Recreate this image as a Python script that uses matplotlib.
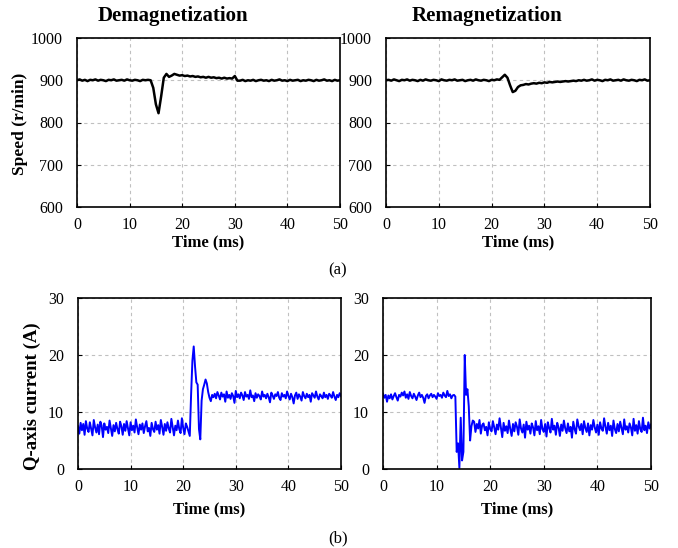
import numpy as np
import matplotlib
matplotlib.use("Agg")
import matplotlib.pyplot as plt

plt.rcParams['font.family'] = ['Liberation Serif', 'DejaVu Serif']
plt.rcParams['font.size'] = 11

# Speed (r/min), sampled every 0.5 ms from 0 to 50 ms
speed_demag = (
    [900, 902, 899, 901, 898, 901, 900, 902, 899, 901, 900, 898, 901, 900,
     902, 899, 900, 901, 899, 902, 900, 899, 901, 900, 898, 901, 900, 901]
    + [900, 882, 843, 822, 862, 906, 915, 908, 911, 915,
       913, 911, 912, 910, 911, 909, 910, 908, 909, 907, 908, 906,
       908, 906, 907, 905, 906, 904, 906, 904, 905, 904, 910, 899]
    + [899, 901, 898, 900, 899, 901, 898, 900, 901, 899,
       900, 898, 901, 899, 900, 902, 899, 900, 898, 901,
       899, 900, 901, 898, 900, 899, 901, 900, 898, 901,
       899, 900, 902, 899, 900, 898, 901, 899, 900]
)
speed_remag = (
    [900, 901, 899, 902, 900, 898, 901, 900, 902, 899,
     901, 900, 898, 901, 899, 902, 900, 899, 901, 900,
     898, 902, 900, 899, 901, 900, 902, 899, 900, 901,
     898, 900, 901, 899, 902, 900, 899, 901, 900, 898,
     901, 900, 902, 901]
    + [907, 913, 906, 888, 872, 875, 884, 888, 889, 891,
       890, 892, 893, 892, 894, 893, 895, 894, 896, 895,
       896, 897, 896, 897, 898, 897, 898]
    + [899, 898, 900, 899, 901, 899, 900, 902, 899, 901,
       900, 898, 901, 900, 902, 899, 900, 901, 899, 902,
       900, 899, 901, 900, 898, 901, 900, 902, 899, 900]
)

# Q-axis current (A), sampled every 0.25 ms from 0 to 50 ms
iq_demag = (
    [7.5, 6.2, 8.1, 6.8, 7.9, 6.0, 8.4, 7.1, 6.5, 8.2, 7.0, 5.9, 8.6, 7.3, 6.4, 7.8, 6.1, 8.3, 7.6, 5.6,
     8.0, 6.9, 7.4, 6.3, 8.5, 7.2, 5.8, 7.7, 6.6, 8.1, 7.0, 6.2, 8.3, 7.5, 6.0, 7.9, 6.7, 8.4, 7.1, 5.9,
     8.2, 6.8, 7.6, 6.4, 8.7, 7.3, 6.1, 7.8, 6.9, 8.0, 6.3, 7.5, 8.4, 6.6, 7.2, 5.8, 8.1, 7.0, 6.5, 8.3,
     6.9, 7.7, 6.2, 8.6, 7.4, 6.0, 7.9, 6.7, 8.2, 7.1, 6.4, 8.8, 7.3, 5.9, 7.6, 6.8, 8.5, 7.0, 6.3, 8.9,
     7.2, 6.1, 8.0, 7.4, 6.6]
    + [5.8, 13.0, 19.0, 21.5, 18.0, 15.2, 14.8, 7.0, 5.2, 12.0,
       14.0, 14.8, 15.7, 15.0, 13.5, 12.5, 11.9, 13.0]
    + [12.6, 13.2, 12.4, 13.5, 12.9, 12.2, 13.4, 12.7, 13.1, 11.8, 13.6, 12.5, 13.0, 12.3, 13.3, 12.8, 11.6, 13.7, 12.6, 13.1,
       12.4, 13.4, 12.9, 12.1, 13.5, 12.7, 13.0, 12.3, 13.8, 12.6, 12.9, 11.9, 13.3, 12.5, 13.1, 12.8, 12.2, 13.6, 12.7, 13.0,
       12.4, 13.2, 12.6, 11.7, 13.4, 12.9, 12.3, 13.1, 12.8, 13.5, 12.5, 12.1, 13.3, 12.7, 13.0, 12.4, 13.6, 12.8, 12.2, 13.2,
       12.6, 11.5, 12.9, 13.4, 12.3, 13.1, 12.7, 12.0, 13.5, 12.8, 12.4, 13.2, 12.6, 13.0, 11.8, 13.3, 12.9, 12.5, 13.6, 12.7,
       12.2, 13.1, 12.8, 12.4, 13.4, 12.6, 13.0, 12.3, 13.2, 12.9, 12.5, 13.5, 12.7, 12.1, 13.0, 12.6, 13.3, 12.8]
)
iq_remag = (
    [13.2, 12.5, 13.0, 11.8, 12.9, 12.4, 13.1, 12.2, 12.8, 13.3, 12.6, 12.0, 13.0, 12.7, 13.4, 12.9, 13.6, 12.5, 13.1, 12.3,
     13.5, 12.8, 12.4, 13.2, 12.7, 12.1, 12.9, 13.4, 12.6, 13.0, 12.5, 11.6, 12.8, 13.1, 12.4, 12.9, 13.2, 12.6, 13.0, 12.7,
     12.3, 13.3, 12.8, 13.0, 12.5, 13.4, 12.9, 12.6, 13.7, 12.8, 13.1, 12.4, 12.9, 13.0, 12.7]
    + [3.0, 4.5, 0.2, 9.0, 1.5, 3.0, 20.0, 13.0, 14.0, 11.0, 5.0, 7.5, 8.5]
    + [8.3, 6.5, 7.9, 7.1, 8.6, 6.2, 7.7, 8.0, 6.8, 7.4, 5.9, 8.2, 7.0, 6.6, 8.4, 7.3, 6.1, 7.8, 6.9, 8.9,
       7.2, 5.6, 8.1, 6.7, 7.5, 6.3, 8.5, 7.0, 5.8, 7.9, 6.6, 8.2, 7.4, 6.0, 8.7, 7.1, 6.4, 7.8, 5.5, 8.3,
       6.9, 7.6, 6.2, 8.0, 7.3, 5.9, 8.4, 6.8, 7.5, 6.1, 8.6, 7.0, 6.5, 7.9, 5.7, 8.2, 7.2, 6.4, 8.8, 6.9,
       7.6, 6.0, 8.1, 7.3, 5.8, 7.8, 6.7, 8.5, 7.1, 6.3, 8.0, 6.6, 7.4, 5.5, 8.3, 7.0, 6.2, 8.7, 7.5, 6.8,
       7.9, 6.1, 8.4, 7.2, 6.5, 8.0, 5.9, 7.7, 6.9, 8.6, 7.3, 6.4, 7.8, 6.0, 8.2, 7.1, 6.7, 8.9, 7.4, 6.2,
       8.1, 6.8, 7.6, 5.8, 8.5, 7.0, 6.3, 7.9, 6.6, 8.3, 7.2, 6.1, 8.7, 6.9, 7.5, 6.4, 8.0, 7.3, 5.9, 8.8,
       6.7, 7.7, 6.2, 8.4, 7.0, 6.5, 9.0, 6.8, 7.6, 6.3, 8.2, 7.1, 7.8]
)

titles = ["Demagnetization", "Remagnetization"]

W, H = 678, 548
fig = plt.figure(figsize=(W / 100, H / 100), dpi=100)

def px_axes(x0, y0, x1, y1):
    return fig.add_axes([x0 / W, 1 - y1 / H, (x1 - x0) / W, (y1 - y0) / H])

ax_sd = px_axes(77, 38, 340, 207)
ax_sr = px_axes(386, 38, 650, 207)
ax_cd = px_axes(78, 298, 341, 469)
ax_cr = px_axes(383, 298, 651, 469)

def style(ax, ylim, yticks, xlabelpad):
    ax.set_xlim(0, 50)
    ax.set_ylim(*ylim)
    ax.set_xticks(range(0, 51, 10))
    ax.set_yticks(yticks)
    ax.grid(True, linestyle=(0, (3, 3)), color='#c0c0c0', linewidth=0.8)
    ax.tick_params(direction='in', length=3, labelsize=11.5)
    ax.tick_params(axis='x', pad=7.5)
    ax.tick_params(axis='y', pad=10)
    for s in ax.spines.values():
        s.set_linewidth(1.2)
    ax.set_xlabel("Time (ms)", fontweight='bold', fontsize=12, labelpad=xlabelpad)

for ax, y in [(ax_sd, speed_demag), (ax_sr, speed_remag)]:
    t = np.linspace(0, 50, len(y))
    ax.plot(t, y, color='black', linewidth=1.8)
    style(ax, (600, 1000), range(600, 1001, 100), 1)

for ax, y in [(ax_cd, iq_demag), (ax_cr, iq_remag)]:
    t = np.linspace(0, 50, len(y))
    ax.plot(t, y, color='#0000ff', linewidth=1.4)
    style(ax, (0, 30), range(0, 31, 10), 4)

# label x coordinate is the right edge of the rotated text
ax_sd.set_ylabel("Speed (r/min)", fontweight='bold', fontsize=12.5)
ax_sd.yaxis.set_label_coords((28 - 77) / 263, 0.494)
ax_cd.set_ylabel("Q-axis current (A)", fontweight='bold', fontsize=13.5)
ax_cd.yaxis.set_label_coords((41 - 78) / 263, 0.427)

fig.text(173 / W, 1 - 16 / H, titles[0], ha='center', va='center', fontweight='bold', fontsize=15)
fig.text(487 / W, 1 - 16 / H, titles[1], ha='center', va='center', fontweight='bold', fontsize=15)
fig.text(338 / W, 1 - 270 / H, "(a)", ha='center', va='center', fontsize=12)
fig.text(338 / W, 1 - 538 / H, "(b)", ha='center', va='center', fontsize=12)

fig.savefig("out.png", dpi=100)
